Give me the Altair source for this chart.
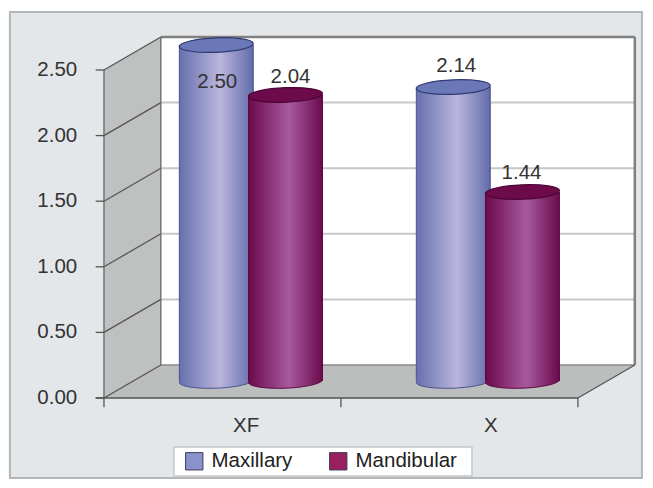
import altair as alt
import pandas as pd

categories = ["XF", "X"]
series = ["Maxillary", "Mandibular"]
maxillary_heights = [2.56, 2.24]
mandibular_heights = [2.18, 1.44]
maxillary_labels = ["2.50", "2.14"]
mandibular_labels = ["2.04", "1.44"]
y_ticks = [0.0, 0.5, 1.0, 1.5, 2.0, 2.5]
y_tick_labels = ["0.00", "0.50", "1.00", "1.50", "2.00", "2.50"]

DX, DY = 0.24, 0.2515      # 3-D depth in axis units
BASE = 0.13                # cylinders stand on the middle of the floor
HALF = 0.156
N = len(categories)
FONT = 20.5

xs = alt.Scale(domain=[-0.405, 2.283], nice=False, zero=False)
ys = alt.Scale(domain=[-0.625, 2.9726], nice=False, zero=False)
X = alt.X("x:Q", scale=xs, axis=None)
Y = alt.Y("y:Q", scale=ys, axis=None)
X2 = alt.X2("x2")
Y2 = alt.Y2("y2")

rows = []
for i, c in enumerate(categories):
    centre = i + 0.5 + DX / 2
    for s, off, vals, labs in (("Maxillary", -0.146, maxillary_heights, maxillary_labels),
                               ("Mandibular", 0.146, mandibular_heights, mandibular_labels)):
        rows.append(dict(category=c, series=s, cx=centre + off, x=centre + off - HALF,
                         x2=centre + off + HALF, y=BASE + vals[i], y2=BASE, label=labs[i]))
bars = pd.DataFrame(rows)


def rules(lines, color, width):
    df = pd.DataFrame(lines, columns=["x", "y", "x2", "y2"])
    return alt.Chart(df).mark_rule(color=color, strokeWidth=width).encode(X, Y, X2, Y2)


def grad(edge1, mid, edge2, midpos=0.55):
    return alt.LinearGradient(gradient="linear", x1=0, x2=1, y1=0, y2=0, stops=[
        alt.GradientStop(color=edge1, offset=0),
        alt.GradientStop(color=mid, offset=midpos),
        alt.GradientStop(color=edge2, offset=1)])


ELLIPSE = "M-1,0.04 A1,0.195,-2.3,1,1,1,-0.04 A1,0.195,-2.3,1,1,-1,0.04 Z"
SIZE = 74 ** 2

frame = alt.Chart(pd.DataFrame([dict(x=-0.397, x2=2.27, y=2.942, y2=-0.61)])).mark_rect(
    fill="#e4e7ea", stroke="#b4b7b9", strokeWidth=2).encode(X, Y, X2, Y2)

back = alt.Chart(pd.DataFrame([dict(x=DX, x2=N + DX, y=2.5 + DY, y2=DY)])).mark_rect(
    fill="#ffffff").encode(X, Y, X2, Y2)

wall_df = pd.DataFrame({"x": [0, DX], "y": [0, DY], "y2": [2.5, 2.5 + DY]})
wall = alt.Chart(wall_df).mark_area(color="#bfc1c1", opacity=1).encode(X, Y, Y2)

floor_df = pd.DataFrame({"y": [0, DY], "x": [0, DX], "x2": [N, N + DX]})
floor = alt.Chart(floor_df).mark_area(color="#bcbdbd", opacity=1, orient="horizontal").encode(
    alt.X("x:Q", scale=xs, axis=None), alt.Y("y:Q", scale=ys, axis=None), X2)

grid = rules([[DX, v + DY, N + DX, v + DY] for v in y_ticks[1:-1]], "#c6c8c8", 2)
floor_back = rules([[DX, DY, N + DX, DY]], "#8a8a8a", 1.5)
top_right = rules([[DX, 2.5 + DY, N + DX, 2.5 + DY], [N + DX, DY, N + DX, 2.5 + DY]], "#808080", 2.5)
diagonals = rules([[0, v, DX, v + DY] for v in y_ticks] + [[N, 0, N + DX, DY]], "#555555", 1.3)
verticals = rules([[0, 0, 0, 2.5], [DX, DY, DX, 2.5 + DY]], "#666666", 1.3)
y_tick_marks = rules([[-0.035, v, 0, v] for v in y_ticks], "#555555", 1.3)
x_axis = rules([[-0.035, 0, N, 0]] + [[i, 0, i, -0.07] for i in range(N + 1)], "#555555", 1.3)

y_text = alt.Chart(pd.DataFrame({"x": [-0.113] * 6, "y": y_ticks, "t": y_tick_labels})).mark_text(
    align="right", baseline="middle", font="Liberation Sans", fontSize=FONT, color="#333333"
).encode(X, Y, text="t:N")

x_text = alt.Chart(pd.DataFrame({"x": [0.5 + DX / 2 - 0.02, 1.5 + DX / 2 + 0.012],
                                 "y": [-0.215] * N, "t": categories})).mark_text(
    align="center", baseline="middle", font="Liberation Sans", fontSize=FONT, color="#333333"
).encode(X, Y, text="t:N")

legend_box = alt.Chart(pd.DataFrame([dict(x=0.295, x2=1.553, y=-0.373, y2=-0.595)])).mark_rect(
    fill="#ffffff", stroke="#c4c6c8", strokeWidth=1.5).encode(X, Y, X2, Y2)

legend_key = alt.Chart(bars).mark_square(size=1, opacity=1).encode(
    alt.X("cx:Q", scale=xs, axis=None),
    alt.Y("y2:Q", scale=ys, axis=None),
    color=alt.Color("series:N", sort=series,
                    scale=alt.Scale(domain=series, range=["#8a92cb", "#9a1f5e"]),
                    legend=alt.Legend(title=None, orient="none", legendX=176, legendY=443,
                                      direction="horizontal", columns=2, columnPadding=34,
                                      padding=0,
                                      symbolType="square", symbolSize=300,
                                      symbolStrokeColor="#3a3a5a", symbolStrokeWidth=1,
                                      labelFont="Liberation Sans", labelFontSize=FONT,
                                      labelColor="#222222", labelOffset=7)))


def cylinder(name, edge1, mid, edge2, side, top_fill, top_stroke):
    d = bars[bars.series == name]
    cx = alt.X("cx:Q", scale=xs, axis=None)
    bottom = alt.Chart(d).mark_point(shape=ELLIPSE, size=SIZE, filled=True, opacity=1,
                                     fill=grad(edge1, mid, edge2), stroke=side, strokeWidth=1).encode(
        cx, alt.Y("y2:Q", scale=ys, axis=None))
    body = alt.Chart(d).mark_bar(fill=grad(edge1, mid, edge2), opacity=1).encode(X, Y, X2, Y2)
    left = alt.Chart(d).mark_rule(color=side, strokeWidth=1).encode(
        alt.X("x:Q", scale=xs, axis=None), Y, Y2)
    right = alt.Chart(d).mark_rule(color=side, strokeWidth=1).encode(
        alt.X("x2:Q", scale=xs, axis=None), Y, Y2)
    top = alt.Chart(d).mark_point(shape=ELLIPSE, size=SIZE, filled=True, opacity=1,
                                  fill=top_fill, stroke=top_stroke, strokeWidth=1.2).encode(cx, Y)
    return [bottom, body, left, right, top]


blue = cylinder("Maxillary", "#6670ae", "#bab6dd", "#626cab", "#4a5490", "#6b78b8", "#2f3a70")
maroon = cylinder("Mandibular", "#6a0a4b", "#a85a9f", "#6a0a4b", "#5a0a40", "#6d0a4a", "#4a0535")

label_style = dict(align="center", baseline="middle", font="Liberation Sans", fontSize=FONT, color="#333333")
label_layers = []
for lab, ddx, ddy in (("2.50", 1, 37), ("2.04", 5, -18), ("2.14", 3, -21), ("1.44", -1, -19)):
    label_layers.append(alt.Chart(bars[bars.label == lab]).mark_text(dx=ddx, dy=ddy, **label_style).encode(
        alt.X("cx:Q", scale=xs, axis=None), Y, text="label:N"))

chart = alt.layer(
    frame, back, grid, wall, floor, floor_back, top_right, diagonals, verticals,
    y_tick_marks, x_axis, y_text, x_text, legend_box, legend_key, *blue, *maroon, *label_layers
).properties(width=637, height=472, padding=0, background="#ffffff").configure_view(stroke=None)

chart.save("out.html", embed_options={"renderer": "svg", "actions": False})
